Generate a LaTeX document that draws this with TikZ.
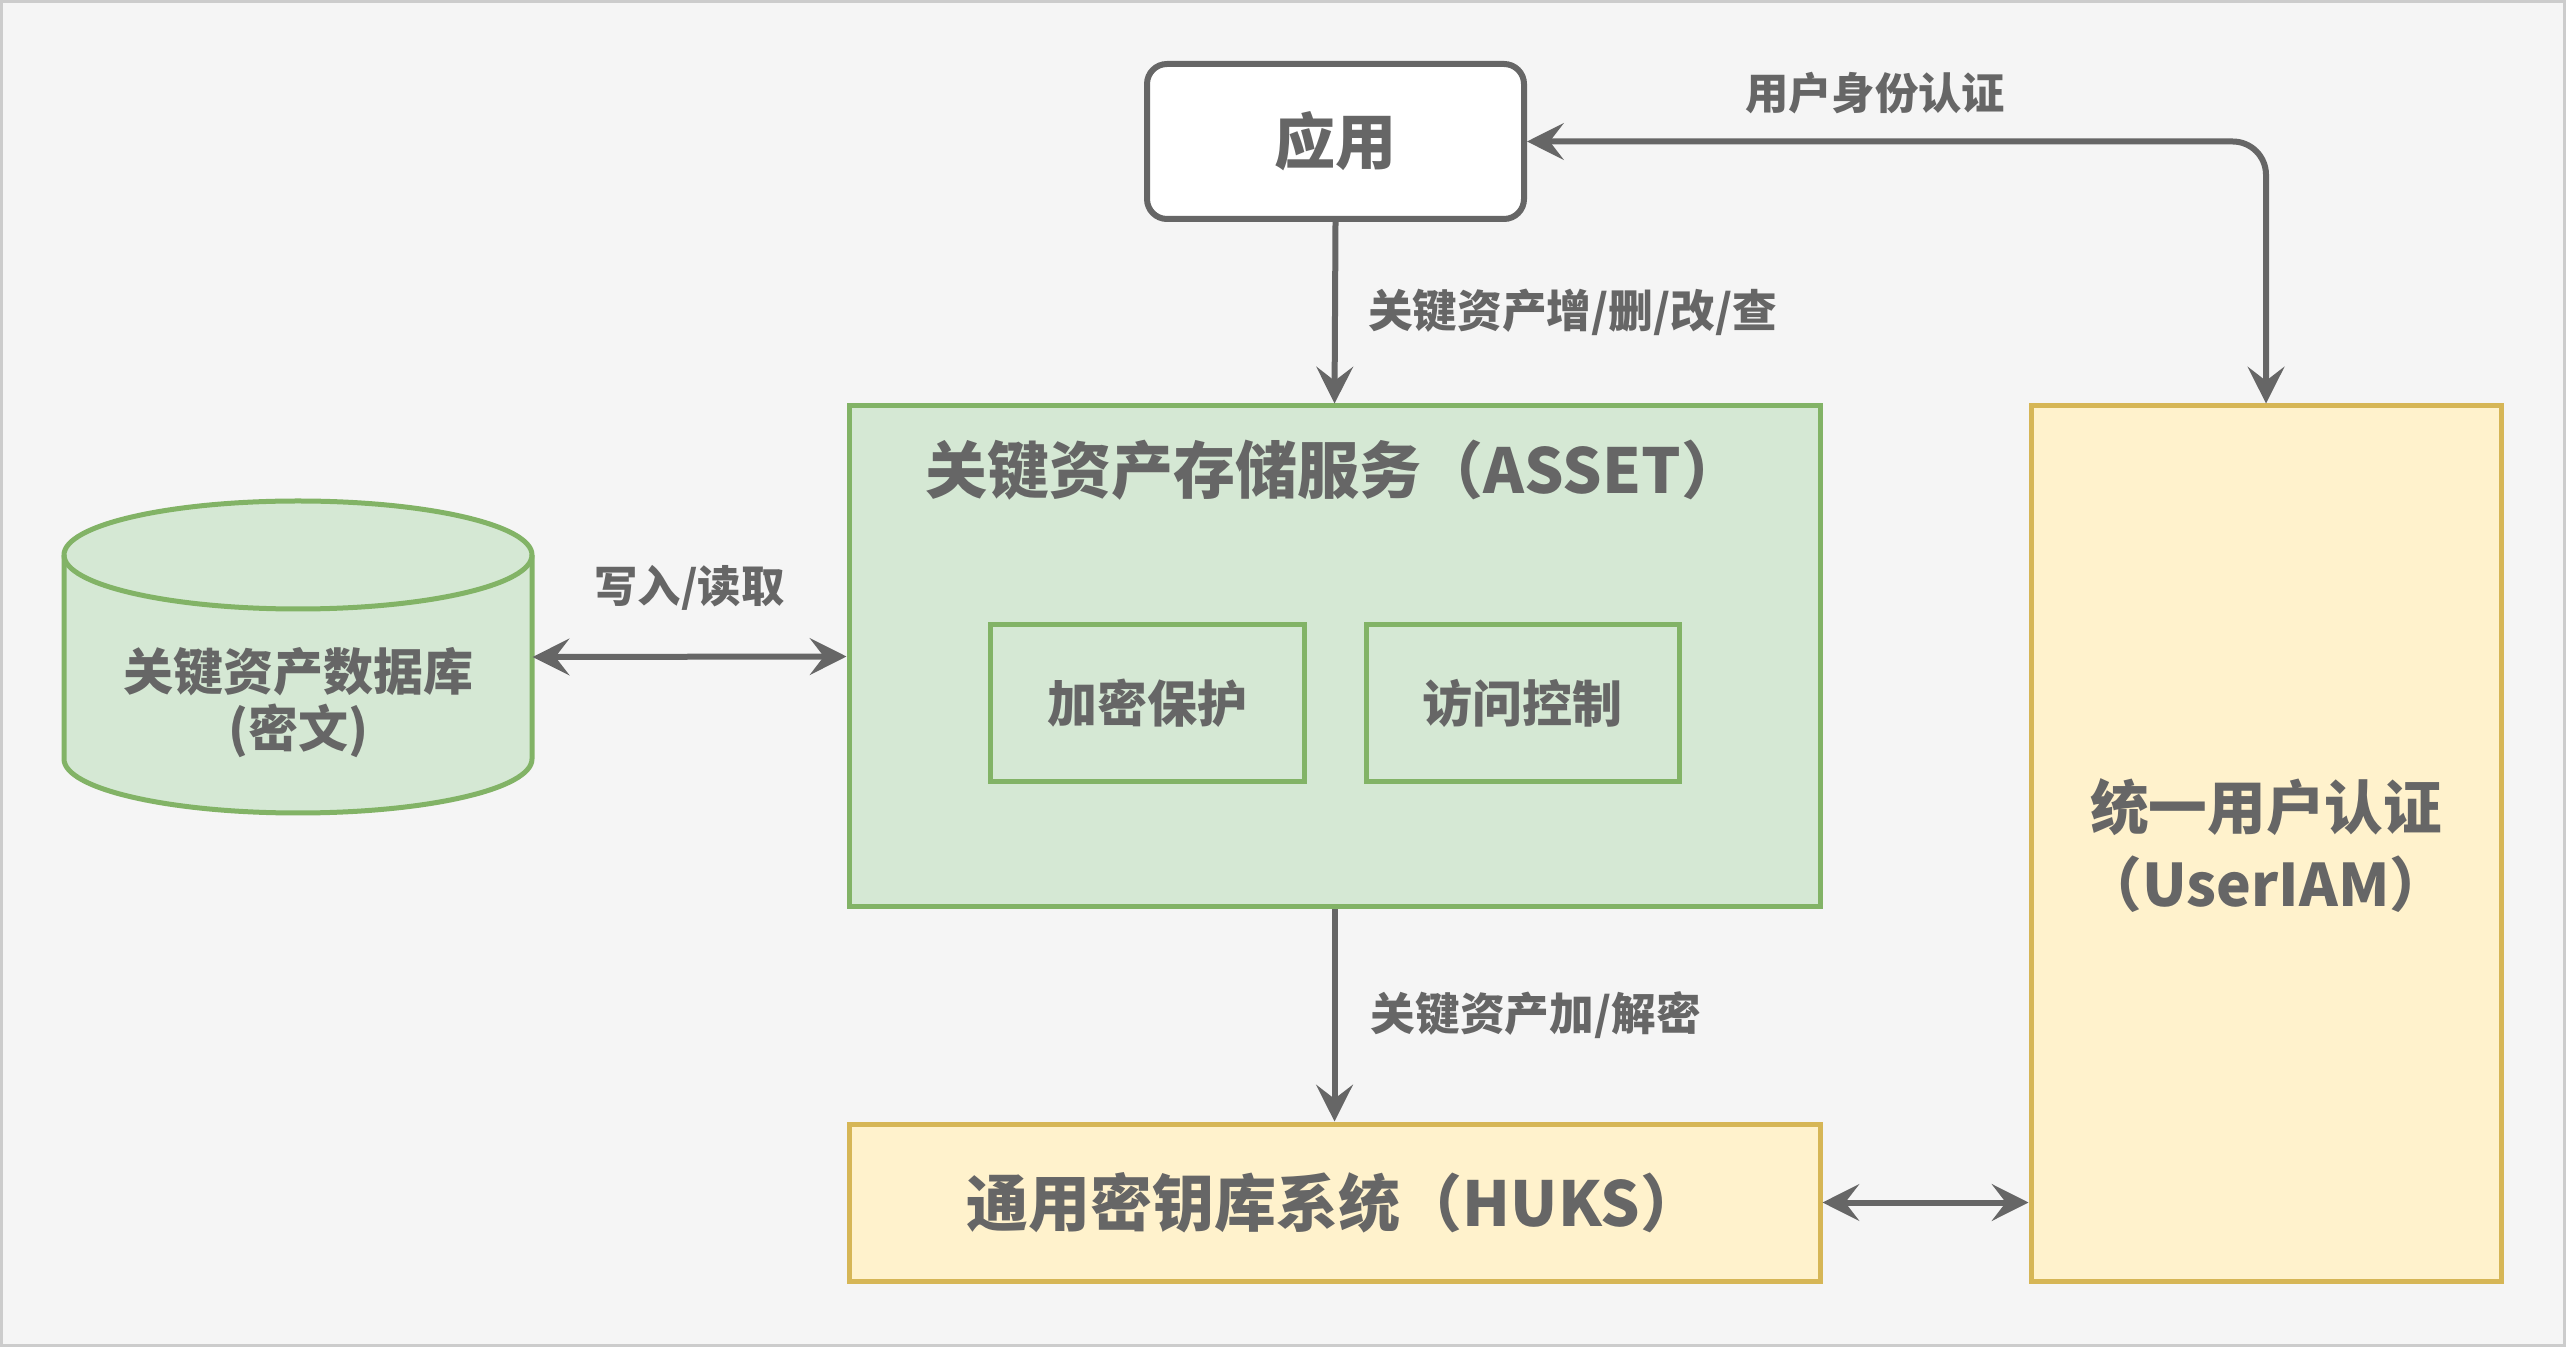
\documentclass[tikz,border=0pt]{standalone}
\usepackage{fontspec}
\setmainfont{Noto Sans CJK SC}
\usetikzlibrary{arrows.meta}
\definecolor{cgray}{HTML}{666666}
\definecolor{cbg}{HTML}{F5F5F5}
\definecolor{cframe}{HTML}{CCCCCC}
\definecolor{gfill}{HTML}{D5E8D4}
\definecolor{gline}{HTML}{82B366}
\definecolor{yfill}{HTML}{FFF2CC}
\definecolor{yline}{HTML}{D6B656}
\tikzset{
  base/.style={inner sep=0pt, text=cgray, align=center},
  appbox/.style={base, draw=cgray, fill=white, line width=1.8pt, rounded corners=6pt,
    font=\fontsize{18.3}{22}\selectfont\bfseries},
  gbox/.style={base, draw=gline, fill=gfill, line width=1.5pt},
  ybox/.style={base, draw=yline, fill=yfill, line width=1.5pt},
  bigtxt/.style={font=\fontsize{18.6}{22}\selectfont\bfseries},
  midtxt/.style={font=\fontsize{15}{17}\selectfont\bfseries},
  lbl/.style={base, font=\fontsize{13.4}{16}\selectfont\bfseries},
  lbls/.style={base, font=\fontsize{13}{15}\selectfont\bfseries},
  arr/.style={draw=cgray, line width=1.8pt, arrows={-Stealth[length=11pt,width=11pt,inset=4.2pt]}},
  darr/.style={draw=cgray, line width=1.8pt,
    arrows={Stealth[length=11pt,width=11pt,inset=4.2pt]-Stealth[length=11pt,width=11pt,inset=4.2pt]}},
}
\begin{document}
\begin{tikzpicture}[x=0.3pt,y=-0.3pt]
\useasboundingbox (0,0) rectangle (2566,1347);
\fill[cbg] (0,0) rectangle (2566,1347);
\draw[cframe, line width=0.9pt] (2,2) rectangle (2564,1345);

% nodes
\node[appbox, minimum width=113.1pt, minimum height=46.5pt] (app) at (1335.5,141.5) {应用};
\node[gbox, minimum width=291.3pt, minimum height=150.3pt] (asset) at (1334.5,656.5) {};
\node[base, bigtxt] (assettitle) at (1334.5,470) {关键资产存储服务（ASSET）};
\node[gbox, midtxt, minimum width=94.2pt, minimum height=47.1pt] (enc) at (1147,703.5) {加密保护};
\node[gbox, midtxt, minimum width=93.9pt, minimum height=47.1pt] (acc) at (1522.5,703.5) {访问控制};
\node[ybox, bigtxt, minimum width=291.3pt, minimum height=47.1pt] (huks) at (1334.5,1202.5) {通用密钥库系统（HUKS）};
\node[ybox, minimum width=141pt, minimum height=262.5pt] (iam) at (2266,843.5) {};
\node[base, font=\fontsize{17.6}{23}\selectfont\bfseries] (iamtxt) at (2266,845.5) {统一用户认证\\（UserIAM）};

% cylinder
\node[base, minimum width=140.4pt, minimum height=93.6pt] (db) at (298,657) {};
\path[draw=gline, fill=gfill, line width=1.5pt]
  (64,555) -- (64,759) arc[start angle=180, end angle=360, x radius=70.2pt, y radius=16.2pt]
  -- (532,555) arc[start angle=0, end angle=180, x radius=70.2pt, y radius=16.2pt] -- cycle;
\draw[gline, line width=1.5pt] (64,555) arc[start angle=180, end angle=360, x radius=70.2pt, y radius=16.2pt];
\node[base, font=\fontsize{15}{17}\selectfont\bfseries] (dbtxt) at (298,702.5) {关键资产数据库\\(密文)};

% connectors
\draw[arr] (app.south) -- node[lbl, anchor=west, xshift=9pt] (l1) {关键资产增/删/改/查} (asset.north);
\draw[arr] (asset.south) -- node[lbl, anchor=west, xshift=10pt] (l2) {关键资产加/解密} (huks.north);
\draw[darr] (db.east) -- node[lbls, above=13pt] (l3) {写入/读取} (asset.west);
\draw[darr] (huks.east) -- (huks.east -| iam.west);
\coordinate (corner) at (app.east -| iam.north);
\draw[darr, rounded corners=10pt] (app.east) -- (corner) -- (iam.north);
\node[lbls] (l4) at (1875,93) {用户身份认证};
\end{tikzpicture}
\end{document}
